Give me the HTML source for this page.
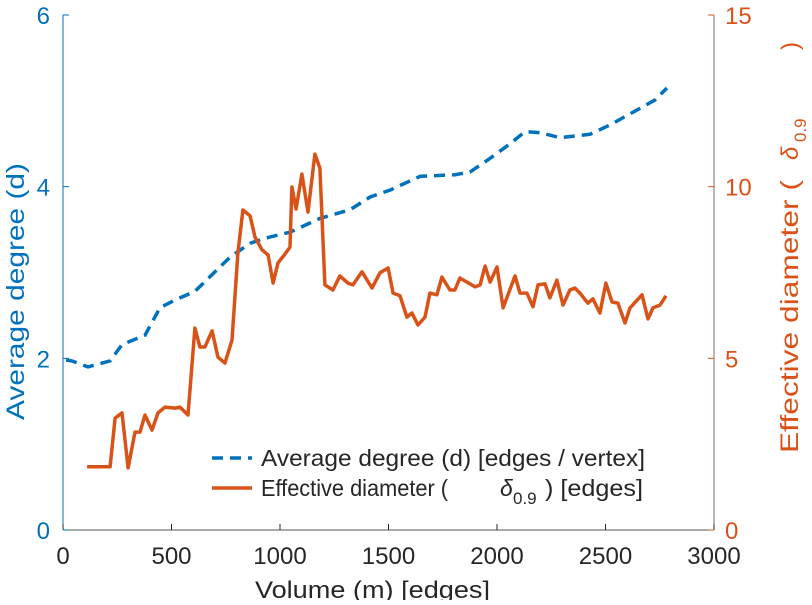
<!DOCTYPE html>
<html><head><meta charset="utf-8"><style>
body{margin:0;background:#fff;}
svg text{font-family:"Liberation Sans",sans-serif;}
</style></head><body>
<svg id="chart" width="812" height="600" viewBox="0 0 812 600" xmlns="http://www.w3.org/2000/svg">
<g id="axes"></g>
<g id="series"></g>
<g id="legend">
  <line x1="212" y1="458" x2="252" y2="458" stroke="#0072BD" stroke-width="3.5" stroke-dasharray="11,7"/>
  <text x="261" y="466" font-size="23" fill="#262626" textLength="384" lengthAdjust="spacingAndGlyphs">Average degree (d) [edges / vertex]</text>
  <line x1="212" y1="488" x2="252" y2="488" stroke="#D95319" stroke-width="3.5"/>
  <text x="261" y="496" font-size="23" fill="#262626" textLength="187" lengthAdjust="spacingAndGlyphs">Effective diameter (</text>
  <text x="500" y="496" font-size="23" fill="#262626" font-style="italic">δ</text>
  <text x="513" y="504" font-size="17" fill="#262626">0.9</text>
  <text x="545" y="496" font-size="23" fill="#262626" textLength="98" lengthAdjust="spacingAndGlyphs">) [edges]</text>
</g>
</svg>
<script>
const xTicks=[0,500,1000,1500,2000,2500,3000];
const yLeftTicks=[0,2,4,6];
const yRightTicks=[0,5,10,15];
const degVol=[14,41,115,217,272,378,447,516,608,677,770,862,931,1046,1184,1322,1415,1507,1645,1806,1875,1968,2060,2129,2198,2290,2428,2521,2636,2728,2783];
const degVal=[1.98,1.97,1.90,1.97,2.16,2.27,2.59,2.68,2.78,2.95,3.18,3.34,3.40,3.47,3.63,3.73,3.88,3.96,4.12,4.14,4.17,4.33,4.50,4.64,4.63,4.57,4.61,4.72,4.88,5.01,5.15];
const diaVol=[111,217,240,272,300,332,355,378,410,438,470,516,539,576,608,631,654,687,714,746,779,806,829,862,885,917,945,968,991,1023,1046,1055,1074,1101,1129,1161,1184,1207,1244,1276,1313,1336,1378,1424,1461,1498,1521,1553,1585,1608,1636,1668,1691,1723,1746,1783,1806,1829,1899,1922,1945,1968,2000,2028,2083,2106,2138,2166,2189,2221,2244,2276,2304,2336,2359,2382,2419,2442,2474,2502,2530,2557,2590,2613,2668,2696,2719,2751,2779];
const diaVal=[1.84,1.84,3.26,3.41,1.81,2.85,2.85,3.35,2.91,3.41,3.58,3.55,3.58,3.35,5.88,5.33,5.33,5.80,5.04,4.86,5.53,8.07,9.32,9.15,8.53,8.16,8.01,7.19,7.78,8.04,8.24,9.99,9.35,10.37,9.26,10.95,10.54,7.14,6.99,7.40,7.19,7.14,7.52,7.05,7.49,7.63,6.90,6.82,6.20,6.32,5.97,6.20,6.90,6.85,7.37,6.99,6.99,7.34,7.08,7.14,7.69,7.22,7.66,6.47,7.40,6.90,6.90,6.50,7.14,7.17,6.76,7.28,6.55,6.99,7.05,6.90,6.61,6.73,6.32,7.19,6.64,6.61,6.03,6.47,6.85,6.15,6.47,6.55,6.82];

const X0=63,X1=714,Y0=530,Y1=15;
const xs=v=>X0+(v/3000)*(X1-X0);
const yl=v=>Y0-(v/6)*(Y0-Y1);
const yr=v=>Y0-(v/15)*(Y0-Y1);
const NS='http://www.w3.org/2000/svg';
function mk(tag,attrs,parent,txt){const e=document.createElementNS(NS,tag);for(const k in attrs)e.setAttribute(k,attrs[k]);if(txt!==undefined)e.textContent=txt;parent.appendChild(e);return e;}
const axes=document.getElementById('axes');
const series=document.getElementById('series');

let e=mk('line',{x1:X0,y1:Y0,x2:X1,y2:Y0,stroke:'#555','stroke-width':1},axes);


e=mk('line',{x1:X0,y1:Y0,x2:X0,y2:Y1,stroke:'#0072BD','stroke-width':1},axes);


e=mk('line',{x1:X1,y1:Y0,x2:X1,y2:Y1,stroke:'#8a6a60','stroke-width':1},axes);



xTicks.forEach(t=>{
  const x=xs(t);
  mk('line',{x1:x,y1:Y0,x2:x,y2:Y0-6,stroke:'#262626'},axes);
  const tx=mk('text',{x:x,y:Y0+34,'font-size':24,fill:'#262626','text-anchor':'middle'},axes,String(t));
  
  
});
yLeftTicks.forEach(t=>{
  const y=yl(t);
  mk('line',{x1:X0,y1:y,x2:X0+6,y2:y,stroke:'#0072BD'},axes);
  const tx=mk('text',{x:X0-13,y:y+9,'font-size':24,fill:'#0072BD','text-anchor':'end'},axes,String(t));
  
  
});
yRightTicks.forEach(t=>{
  const y=yr(t);
  mk('line',{x1:X1,y1:y,x2:X1-6,y2:y,stroke:'#D95319'},axes);
  const tx=mk('text',{x:X1+11,y:y+9,'font-size':24,fill:'#D95319','text-anchor':'start'},axes,String(t));
  
  
});
e=mk('text',{x:255,y:598,'font-size':24,fill:'#262626',textLength:235,lengthAdjust:'spacingAndGlyphs'},axes,'Volume (m) [edges]');


e=mk('text',{x:0,y:0,'font-size':25,fill:'#0072BD',textLength:257,lengthAdjust:'spacingAndGlyphs',transform:'translate(24,420) rotate(-90)'},axes,'Average degree (d)');


e=mk('text',{x:0,y:0,'font-size':25,fill:'#D95319',textLength:273,lengthAdjust:'spacingAndGlyphs',transform:'translate(798,453) rotate(-90)'},axes,'Effective diameter (');


e=mk('text',{x:0,y:0,'font-size':24,fill:'#D95319','font-style':'italic',transform:'translate(798,160) rotate(-90)'},axes,'δ');


e=mk('text',{x:0,y:0,'font-size':17,fill:'#D95319',transform:'translate(806,142) rotate(-90)'},axes,'0.9');


e=mk('text',{x:0,y:0,'font-size':24,fill:'#D95319',transform:'translate(798,50) rotate(-90)'},axes,')');



let d='';
degVol.forEach((v,i)=>{d+=(i?'L':'M')+xs(v).toFixed(1)+','+yl(degVal[i]).toFixed(1);});
e=mk('path',{d:d,fill:'none',stroke:'#0072BD','stroke-width':3.5,'stroke-dasharray':'11,7'},series);


d='';
diaVol.forEach((v,i)=>{d+=(i?'L':'M')+xs(v).toFixed(1)+','+yr(diaVal[i]).toFixed(1);});
e=mk('path',{d:d,fill:'none',stroke:'#D95319','stroke-width':3.5,'stroke-linejoin':'round'},series);


</script>
</body></html>
